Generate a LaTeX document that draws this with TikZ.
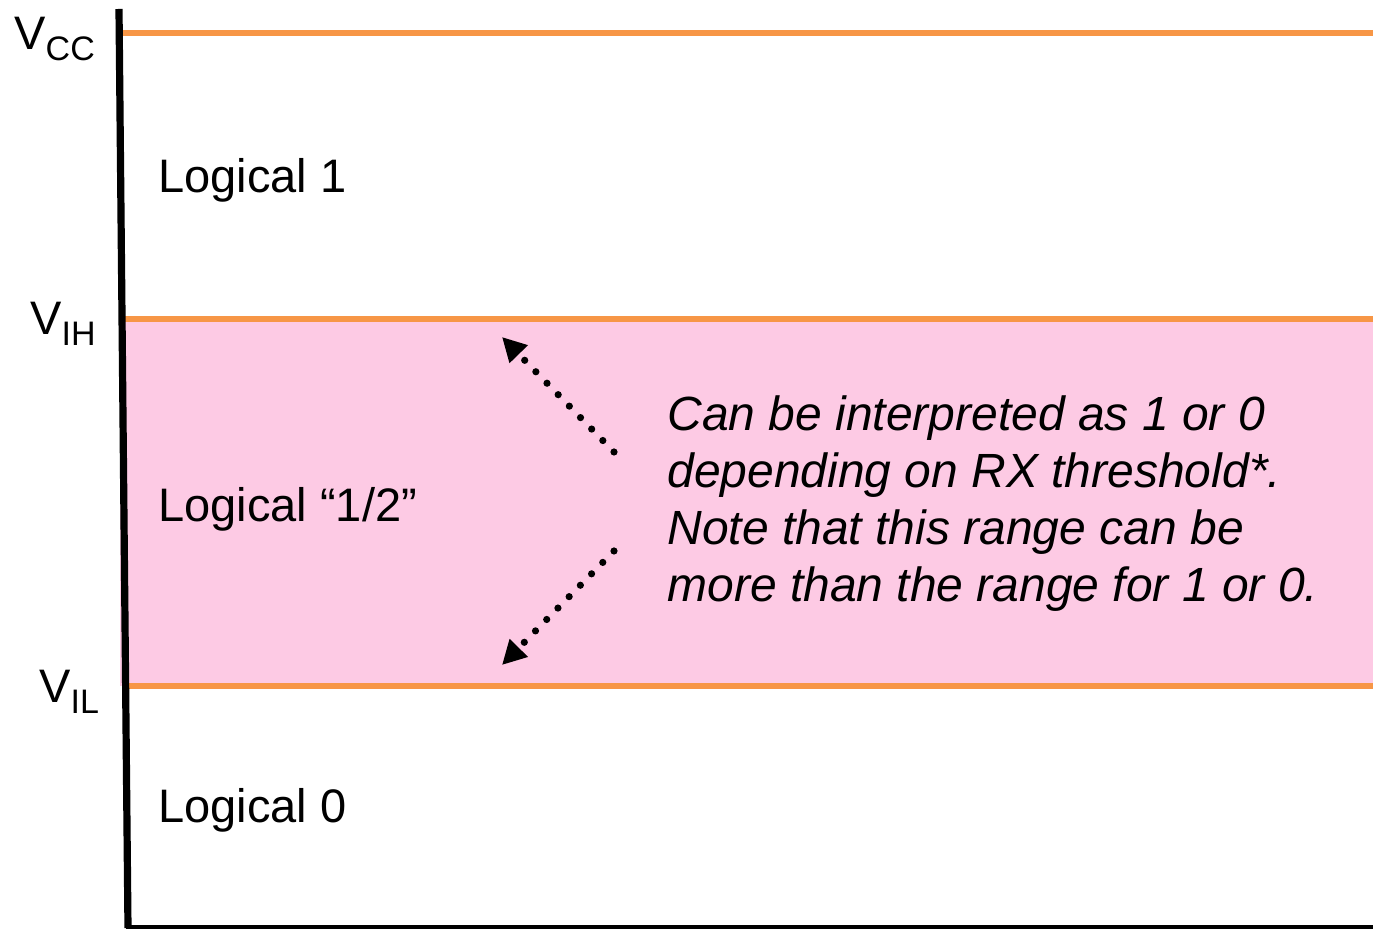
\documentclass[tikz,border=0pt]{standalone}
\usepackage{fontspec}
\setmainfont{Liberation Sans}
\usetikzlibrary{arrows.meta}
\definecolor{bandpink}{HTML}{FDCAE4}
\definecolor{lineorange}{HTML}{F79646}
\begin{document}
\begin{tikzpicture}[x=0.5pt,y=-0.5pt,
  level/.style={draw=lineorange,line width=3pt},
  axisline/.style={draw=black,line width=3.6pt},
  baseline/.style={draw=black,line width=2pt},
  lbl/.style={anchor=base west,inner sep=0pt,font=\fontsize{23.5}{28.5}\selectfont},
  vlbl/.style={anchor=base west,inner sep=0pt,font=\fontsize{23.5}{28.5}\selectfont},
  note/.style={anchor=base west,inner sep=0pt,align=left,font=\fontsize{24}{28.5}\selectfont\itshape},
  dotarrow/.style={draw=black,line width=3.6pt,line cap=round,dash pattern=on 0pt off 8pt,
    -{Triangle[length=12pt,width=12pt]}}
]
\useasboundingbox (0,0) rectangle (1373,929);
% pink band
\fill[bandpink] (120,319) rectangle (1373,686);
% level lines
\coordinate (vccL) at (121,33);  \coordinate (vccR) at (1373,33);
\coordinate (vihL) at (122,319); \coordinate (vihR) at (1373,319);
\coordinate (vilL) at (124,686); \coordinate (vilR) at (1373,686);
\draw[level] (vccL) -- (vccR);
\draw[level] (vihL) -- (vihR);
\draw[level] (vilL) -- (vilR);
% axes
\coordinate (axtop) at (119,9);
\coordinate (axbot) at (128,928);
\coordinate (axend) at (1373,927);
\draw[axisline] (axtop) -- (axbot);
\draw[baseline] (126,927) -- (axend);
% voltage labels
\newcommand{\vsub}[1]{\raisebox{-5.5pt}{\fontsize{17}{17}\selectfont #1}}
\node[vlbl] (vcc) at (14,50) {V\vsub{CC}};
\node[vlbl] (vih) at (30,335) {V\vsub{IH}};
\node[vlbl] (vil) at (39,703) {V\vsub{IL}};
% region labels
\node[lbl] (l1) at (158,193) {Logical 1};
\node[lbl] (lhalf) at (158,522) {Logical “1/2”};
\node[lbl] (l0) at (158,823) {Logical 0};
% note (base anchor = last line)
\node[note] (nt) at (667,602) {Can be interpreted as 1 or 0\\depending on RX threshold*.\\Note that this range can be\\more than the range for 1 or 0.};
% arrows
\coordinate (a1s) at (614,452); \coordinate (a1e) at (502,337);
\coordinate (a2s) at (614,551); \coordinate (a2e) at (502,665);
\draw[dotarrow] (a1s) -- (a1e);
\draw[dotarrow] (a2s) -- (a2e);
\end{tikzpicture}
\end{document}
